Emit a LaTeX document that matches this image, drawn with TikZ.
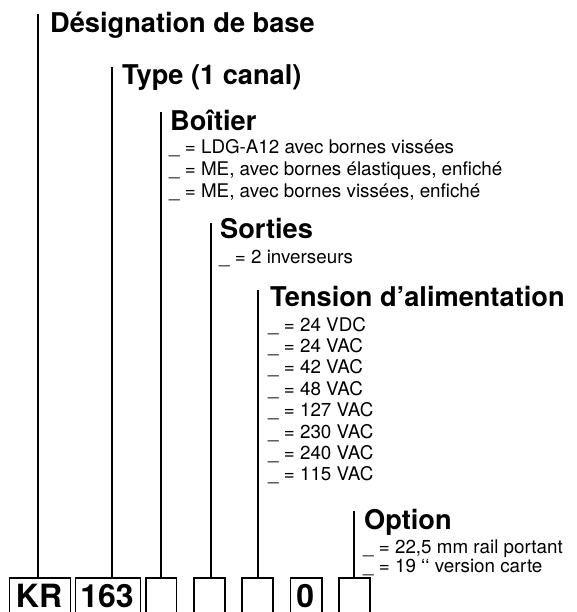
\documentclass[tikz,border=0pt]{standalone}
\usepackage{fontspec}
\setmainfont{TeX Gyre Heros}
\begin{document}
\begin{tikzpicture}[x=1pt,y=-1pt,
  head/.style={anchor=base west, inner sep=0pt, font=\fontsize{27.2}{27.2}\selectfont\bfseries},
  itm/.style={anchor=base west, inner sep=0pt, font=\fontsize{18.8}{18.8}\selectfont},
  conn/.style={draw=black, line width=1.3pt},
  cell/.style={draw=black, line width=1.7pt, anchor=north west, minimum height=60pt, inner sep=0pt},
  celltext/.style={anchor=base, inner sep=0pt, font=\fontsize{32}{32}\selectfont\bfseries}]
\useasboundingbox (0,0) rectangle (576,612);
\clip (0,0) rectangle (576,612);

% code boxes
\node[cell, minimum width=61pt] (b1) at (8.5,577) {};
\node[cell, minimum width=65pt] (b2) at (74.5,577) {};
\node[cell, minimum width=30.5pt] (b3) at (145,577) {};
\node[cell, minimum width=31pt] (b4) at (193,577) {};
\node[cell, minimum width=31pt] (b5) at (241,577) {};
\node[cell, minimum width=31.5pt] (b6) at (289.5,577) {};
\node[cell, minimum width=31pt] (b7) at (338,577) {};
\node[celltext] (t1) at (39,607.5) {KR};
\node[celltext] (t2) at (107,607.5) {163};
\node[celltext] (t6) at (305.25,607.5) {0};

% connector tops
\coordinate (c1) at (38,14);
\coordinate (c2) at (112,67);
\coordinate (c3) at (161,112);
\coordinate (c4) at (211,223);
\coordinate (c5) at (258,290);
\coordinate (c7) at (354,511);
\draw[conn] (c1) -- (c1 |- b1.north);
\draw[conn] (c2) -- (c2 |- b2.north);
\draw[conn] (c3) -- (c3 |- b3.north);
\draw[conn] (c4) -- (c4 |- b4.north);
\draw[conn] (c5) -- (c5 |- b5.north);
\draw[conn] (c7) -- (c7 |- b7.north);

% headings
\node[head] (h1) at (50,33) {Désignation de base};
\node[head] (h2) at (122,85) {Type (1 canal)};
\node[head] (h3) at (170,131) {Boîtier};
\node[head] (h4) at (220,238) {Sorties};
\node[head] (h5) at (270,306) {Tension d’alimentation};
\node[head] (h7) at (364,529) {Option};

% items
\node[itm] (i31) at (169,154) {\_ = LDG-A12 avec bornes vissées};
\node[itm] (i32) at (169,176) {\_ = ME, avec bornes élastiques, enfiché};
\node[itm] (i33) at (169,198) {\_ = ME, avec bornes vissées, enfiché};

\node[itm] (i41) at (219,263) {\_ = 2 inverseurs};

\node[itm] (i51) at (268,331) {\_ = 24 VDC};
\node[itm] (i52) at (268,352.4) {\_ = 24 VAC};
\node[itm] (i53) at (268,373.8) {\_ = 42 VAC};
\node[itm] (i54) at (268,395.2) {\_ = 48 VAC};
\node[itm] (i55) at (268,416.6) {\_ = 127 VAC};
\node[itm] (i56) at (268,438) {\_ = 230 VAC};
\node[itm] (i57) at (268,459.4) {\_ = 240 VAC};
\node[itm] (i58) at (268,480.8) {\_ = 115 VAC};

\node[itm] (i71) at (363,553) {\_ = 22,5 mm rail portant};
\node[itm] (i72) at (363,572) {\_ = 19 ‘‘ version carte};
\end{tikzpicture}
\end{document}
